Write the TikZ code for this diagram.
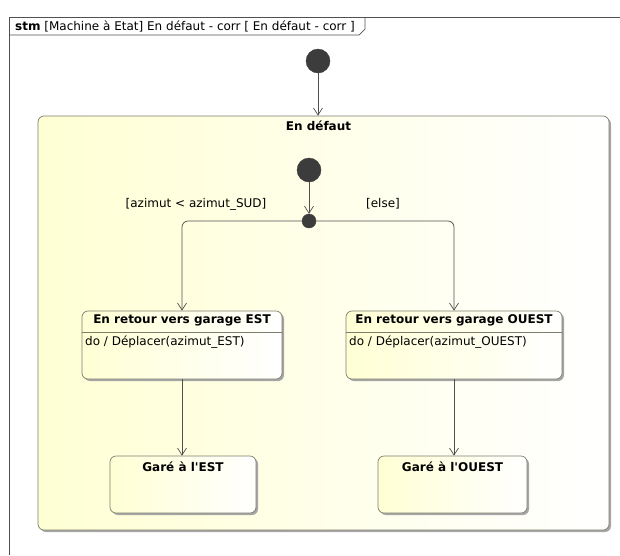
\documentclass[tikz,border=0pt]{standalone}
\usepackage{fontspec}
\setmainfont{DejaVu Sans}
\usetikzlibrary{positioning,arrows.meta,shadows}

\definecolor{statey}{RGB}{255,255,212}
\definecolor{edgegray}{RGB}{125,125,110}
\definecolor{linegray}{RGB}{80,80,80}
\definecolor{dotgray}{RGB}{60,60,60}

\tikzset{
  state/.style={draw=edgegray, line width=0.7pt, rounded corners=6pt, left color=statey, right color=white,
    drop shadow={shadow xshift=2pt, shadow yshift=-2pt, fill=black!35, opacity=1}},
  initial/.style={circle, fill=dotgray, draw=dotgray, minimum size=24pt, inner sep=0pt},
  junction/.style={circle, fill=dotgray, draw=dotgray, minimum size=14pt, inner sep=0pt},
  stname/.style={font=\bfseries\fontsize{12}{14}\selectfont, inner sep=1pt},
  txt/.style={font=\fontsize{12}{14}\selectfont, inner sep=1pt},
  trans/.style={draw=linegray, line width=0.7pt, -{Straight Barb[length=7pt, width=9pt]}},
}

\begin{document}
\begin{tikzpicture}[x=1pt, y=-1pt]
 \useasboundingbox (0,0) rectangle (620,555);

 % frame
 \draw[linegray, line width=0.7pt] (9,555) -- (9,17) -- (620,17);
 \draw[linegray, line width=0.7pt] (9,35) -- (359,35) -- (365,29) -- (365,17);
 \node[txt, anchor=west] (hdr) at (14,26) {\textbf{stm} [Machine à Etat] En défaut - corr [ En défaut - corr ]};

 % top level
 \node[initial] (init) at (318,61) {};
 \node[state, minimum width=571pt, minimum height=414pt] (defaut) at (323.5,323) {};
 \node[stname, below=4pt of defaut.north, xshift=-5pt] (defname) {En défaut};
 \draw[trans] (init) -- (defaut.north -| init);

 % inside En defaut
 \node[initial] (init2) at (309,170) {};
 \node[junction] (junc) at (309,221) {};

 \node[state, minimum width=200pt, minimum height=68pt] (est) at (182,345) {};
 \node[stname, below=3pt of est.north] (estname) {En retour vers garage EST};
 \draw[edgegray] (est.west |- 0,332) -- (est.east |- 0,332);
 \node[txt, anchor=west] (estdo) at (84,342) {do / Déplacer(azimut\_EST)};

 \node[state, minimum width=216pt, minimum height=68pt] (ouest) at (454,345) {};
 \node[stname, below=3pt of ouest.north] (ouestname) {En retour vers garage OUEST};
 \draw[edgegray] (ouest.west |- 0,332) -- (ouest.east |- 0,332);
 \node[txt, anchor=west] (ouestdo) at (348,342) {do / Déplacer(azimut\_OUEST)};

 \node[state, minimum width=146pt, minimum height=57pt] (gest) at (183,484.5) {};
 \node[stname, below=5pt of gest.north] (gestname) {Garé à l\textquotesingle EST};
 \node[state, minimum width=149pt, minimum height=57pt] (gouest) at (452.5,484.5) {};
 \node[stname, below=5pt of gouest.north] (gouestname) {Garé à l\textquotesingle OUEST};

 \draw[trans] (init2) -- (junc);
 \draw[trans, rounded corners=6pt] (junc) -| (est.north);
 \draw[trans, rounded corners=6pt] (junc) -| (ouest.north);
 \node[txt] (g1) at (196,204) {[azimut < azimut\_SUD]};
 \node[txt] (g2) at (383,204) {[else]};

 \draw[trans] (est.south) -- (gest.north -| est.south);
 \draw[trans] (ouest.south) -- (gouest.north -| ouest.south);
\end{tikzpicture}
\end{document}
